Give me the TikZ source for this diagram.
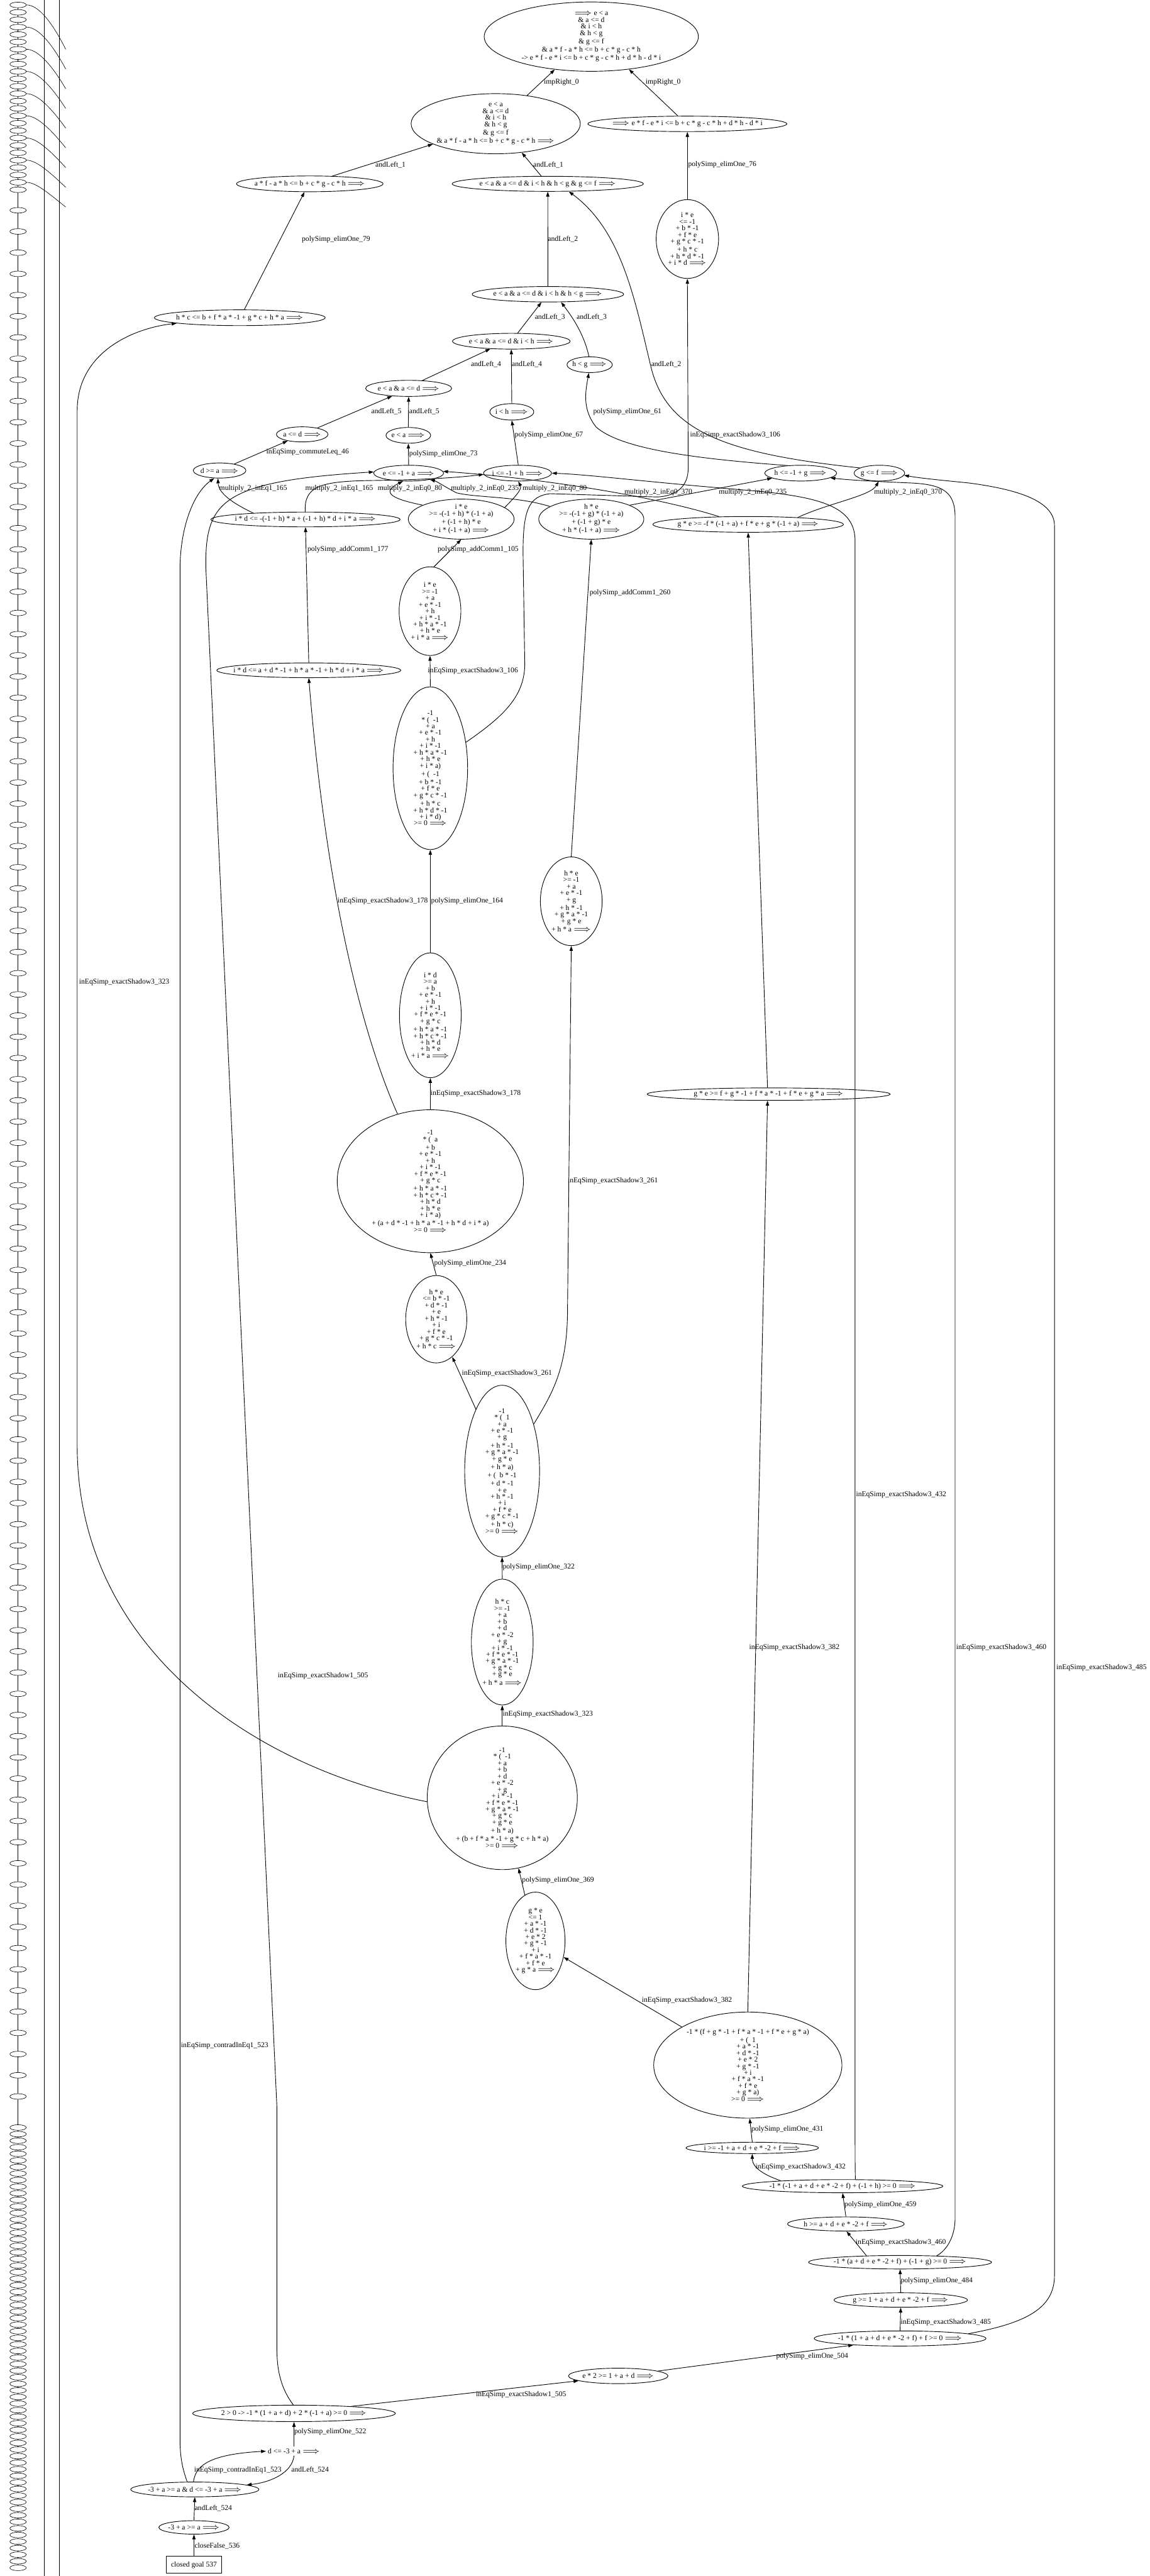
\documentclass[tikz,border=0pt]{standalone}
\usepackage{fontspec}
\setmainfont{Liberation Serif}
\usetikzlibrary{shapes.geometric,arrows.meta}
\newcommand\nf{\fontsize{4.45}{4}\selectfont}
\newcommand\IMP{$\Longrightarrow$}
\tikzset{
 ell/.style={ellipse, draw, line width=0.35pt, inner xsep=-40pt, inner ysep=-40pt, align=center, font=\nf},
 tinyell/.style={ellipse, draw, line width=0.25pt, inner sep=0pt, minimum width=10pt, minimum height=3.4pt},
 txt/.style={inner sep=1pt, align=center, font=\nf},
 lab/.style={anchor=west, inner sep=0pt, font=\nf},
 arr/.style={-{Triangle[length=3pt,width=2pt]}, line width=0.35pt},
 thin/.style={line width=0.25pt},
}
\begin{document}
\begin{tikzpicture}[x=1pt,y=-1pt]
\fill[white] (0,0) rectangle (700,1568);
\useasboundingbox (0,0) rectangle (700,1568);
% ---------------- left strip (small nodes) ----------------
\foreach \i in {0,...,25} { \node[tinyell] (lt\i) at (11,{3+4.5*\i}) {}; }
\foreach \i in {0,...,89} { \node[tinyell] (lm\i) at (11,{128+12.9*\i}) {}; }
\foreach \i in {0,...,67} { \node[tinyell] (lb\i) at (11,{1295+4*\i}) {}; }
\foreach \i [evaluate=\i as \j using int(\i+1)] in {0,...,24} { \draw[thin] (lt\j) -- (lt\i); }
\foreach \i [evaluate=\i as \j using int(\i+1)] in {0,...,88} { \draw[thin] (lm\j) -- (lm\i); }
\foreach \i [evaluate=\i as \j using int(\i+1)] in {0,...,66} { \draw[thin] (lb\j) -- (lb\i); }
\draw[thin] (lm0) -- (lt25);
\draw[thin] (lb0) -- (lm89);
\foreach \i in {0,3,...,24} { \draw[thin] (lt\i.east) .. controls (22,{3+4.5*\i}) and (30,{10+4.5*\i}) .. (40,{30+4*\i}); }
\coordinate (vA1) at (27,0); \coordinate (vA2) at (27,1568);
\coordinate (vB1) at (36,0); \coordinate (vB2) at (36,1568);
\draw[thin] (vA2) -- (vA1);
\draw[thin] (vB2) -- (vB1);
% ---------------- nodes ----------------
\node[ell, minimum width=130.4pt, minimum height=42.2pt] (top) at (360,22.3) {\IMP{} e < a\\ \& a <= d\\ \& i < h\\ \& h < g\\ \& g <= f\\ \& a * f - a * h <= b + c * g - c * h\\ -> e * f - e * i <= b + c * g - c * h + d * h - d * i};
\node[ell, minimum width=103pt, minimum height=36.6pt] (n2) at (301.8,75.3) {e < a\\ \& a <= d\\ \& i < h\\ \& h < g\\ \& g <= f\\ \& a * f - a * h <= b + c * g - c * h \IMP};
\node[ell, minimum width=121.2pt, minimum height=9.4pt] (n3) at (418.5,75.4) {\IMP{} e * f - e * i <= b + c * g - c * h + d * h - d * i};
\node[ell, minimum width=116.4pt, minimum height=9.2pt] (n4) at (333.5,111.9) {e < a \& a <= d \& i < h \& h < g \& g <= f \IMP};
\node[ell, minimum width=89.2pt, minimum height=9.6pt] (n5) at (188.6,111.9) {a * f - a * h <= b + c * g - c * h \IMP};
\node[ell, minimum width=38pt, minimum height=48pt] (n6) at (418.5,145.5) {i * e\\ <= -1\\ + b * -1\\ + f * e\\ + g * c * -1\\ + h * c\\ + h * d * -1\\ + i * d \IMP};
\node[ell, minimum width=104pt, minimum height=9.6pt] (n7) at (146,193.4) {h * c <= b + f * a * -1 + g * c + h * a \IMP};
\node[ell, minimum width=92.2pt, minimum height=9.4pt] (n8) at (333.6,179.1) {e < a \& a <= d \& i < h \& h < g \IMP};
\node[ell, minimum width=71.6pt, minimum height=9.6pt] (n9) at (311.3,207.7) {e < a \& a <= d \& i < h \IMP};
\node[ell, minimum width=27.6pt, minimum height=9.6pt] (hg) at (359,222) {h < g \IMP};
\node[ell, minimum width=52.4pt, minimum height=9.8pt] (n11) at (248.8,236.4) {e < a \& a <= d \IMP};
\node[ell, minimum width=26.8pt, minimum height=10pt] (ih) at (311.6,250.7) {i < h \IMP};
\node[ell, minimum width=31.4pt, minimum height=9.2pt] (ad) at (184,264.4) {a <= d \IMP};
\node[ell, minimum width=27.2pt, minimum height=9.6pt] (ea) at (248.6,265) {e < a \IMP};
\node[ell, minimum width=32pt, minimum height=9.2pt] (da) at (133.7,286.4) {d >= a \IMP};
\node[ell, minimum width=42.6pt, minimum height=9.6pt] (e1a) at (248.8,288) {e <= -1 + a \IMP};
\node[ell, minimum width=41.4pt, minimum height=9.6pt] (i1h) at (315.1,288) {i <= -1 + h \IMP};
\node[ell, minimum width=43.8pt, minimum height=9.6pt] (h1g) at (487.5,288) {h <= -1 + g \IMP};
\node[ell, minimum width=30.8pt, minimum height=9.6pt] (gf) at (535.4,288) {g <= f \IMP};
\node[ell, minimum width=115.2pt, minimum height=9pt] (n20) at (186,316.2) {i * d <= -(-1 + h) * a + (-1 + h) * d + i * a \IMP};
\node[ell, minimum width=64.4pt, minimum height=24.4pt] (m1) at (280.8,316) {i * e\\ >= -(-1 + h) * (-1 + a)\\ + (-1 + h) * e\\ + i * (-1 + a) \IMP};
\node[ell, minimum width=64pt, minimum height=24.4pt] (m2) at (360,316) {h * e\\ >= -(-1 + g) * (-1 + a)\\ + (-1 + g) * e\\ + h * (-1 + a) \IMP};
\node[ell, minimum width=116pt, minimum height=9.6pt] (m3) at (455.5,319.2) {g * e >= -f * (-1 + a) + f * e + g * (-1 + a) \IMP};
\node[ell, minimum width=112pt, minimum height=9pt] (X) at (188,408) {i * d <= a + d * -1 + h * a * -1 + h * d + i * a \IMP};
\node[ell, minimum width=37.6pt, minimum height=54pt] (ie2) at (261.8,372) {i * e\\ >= -1\\ + a\\ + e * -1\\ + h\\ + i * -1\\ + h * a * -1\\ + h * e\\ + i * a \IMP};
\node[ell, minimum width=45.4pt, minimum height=99pt] (b1) at (262,467.6) {-1\\ * (\ \ -1\\ + a\\ + e * -1\\ + h\\ + i * -1\\ + h * a * -1\\ + h * e\\ + i * a)\\ + (\ \ -1\\ + b * -1\\ + f * e\\ + g * c * -1\\ + h * c\\ + h * d * -1\\ + i * d)\\ >= 0 \IMP};
\node[ell, minimum width=37.6pt, minimum height=54pt] (he2) at (347.8,548.6) {h * e\\ >= -1\\ + a\\ + e * -1\\ + g\\ + h * -1\\ + g * a * -1\\ + g * e\\ + h * a \IMP};
\node[ell, minimum width=37.6pt, minimum height=76pt] (idg) at (262,618) {i * d\\ >= a\\ + b\\ + e * -1\\ + h\\ + i * -1\\ + f * e * -1\\ + g * c\\ + h * a * -1\\ + h * c * -1\\ + h * d\\ + h * e\\ + i * a \IMP};
\node[ell, minimum width=148pt, minimum height=7.6pt] (Y) at (468,666) {g * e >= f + g * -1 + f * a * -1 + f * e + g * a \IMP};
\node[ell, minimum width=113.4pt, minimum height=87pt] (b2) at (262,719) {-1\\ * (\ \ a\\ + b\\ + e * -1\\ + h\\ + i * -1\\ + f * e * -1\\ + g * c\\ + h * a * -1\\ + h * c * -1\\ + h * d\\ + h * e\\ + i * a)\\ + (a + d * -1 + h * a * -1 + h * d + i * a)\\ >= 0 \IMP};
\node[ell, minimum width=37.2pt, minimum height=53.2pt] (hel) at (265.6,803) {h * e\\ <= b * -1\\ + d * -1\\ + e\\ + h * -1\\ + i\\ + f * e\\ + g * c * -1\\ + h * c \IMP};
\node[ell, minimum width=45.6pt, minimum height=104.4pt] (b3) at (305.7,895.4) {-1\\ * (\ \ 1\\ + a\\ + e * -1\\ + g\\ + h * -1\\ + g * a * -1\\ + g * e\\ + h * a)\\ + (\ \ b * -1\\ + d * -1\\ + e\\ + h * -1\\ + i\\ + f * e\\ + g * c * -1\\ + h * c)\\ >= 0 \IMP};
\node[ell, minimum width=37.6pt, minimum height=76.6pt] (hcg) at (305.8,999.5) {h * c\\ >= -1\\ + a\\ + b\\ + d\\ + e * -2\\ + g\\ + i * -1\\ + f * e * -1\\ + g * a * -1\\ + g * c\\ + g * e\\ + h * a \IMP};
\node[ell, minimum width=91.4pt, minimum height=87.4pt] (b4) at (305.8,1094.3) {-1\\ * (\ \ -1\\ + a\\ + b\\ + d\\ + e * -2\\ + g\\ + i * -1\\ + f * e * -1\\ + g * a * -1\\ + g * c\\ + g * e\\ + h * a)\\ + (b + f * a * -1 + g * c + h * a)\\ >= 0 \IMP};
\node[ell, minimum width=36pt, minimum height=59.4pt] (gel) at (326,1181.4) {g * e\\ <= 1\\ + a * -1\\ + d * -1\\ + e * 2\\ + g * -1\\ + i\\ + f * a * -1\\ + f * e\\ + g * a \IMP};
\node[ell, minimum width=114.6pt, minimum height=64.6pt] (b5) at (455.3,1257) {-1 * (f + g * -1 + f * a * -1 + f * e + g * a)\\ + (\ \ 1\\ + a * -1\\ + d * -1\\ + e * 2\\ + g * -1\\ + i\\ + f * a * -1\\ + f * e\\ + g * a)\\ >= 0 \IMP};
\node[ell, minimum width=80.6pt, minimum height=6.9pt] (ig) at (458,1307.4) {i >= -1 + a + d + e * -2 + f \IMP};
\node[ell, minimum width=122pt, minimum height=8pt] (s432) at (513,1330.7) {-1 * (-1 + a + d + e * -2 + f) + (-1 + h) >= 0 \IMP};
\node[ell, minimum width=71pt, minimum height=8.6pt] (hg2) at (515,1353.7) {h >= a + d + e * -2 + f \IMP};
\node[ell, minimum width=111.4pt, minimum height=8.2pt] (s460) at (548,1377) {-1 * (a + d + e * -2 + f) + (-1 + g) >= 0 \IMP};
\node[ell, minimum width=81.2pt, minimum height=8.8pt] (gg2) at (548.4,1400) {g >= 1 + a + d + e * -2 + f \IMP};
\node[ell, minimum width=104.6pt, minimum height=9.2pt] (s485) at (548,1423.4) {-1 * (1 + a + d + e * -2 + f) + f >= 0 \IMP};
\node[ell, minimum width=60.6pt, minimum height=9.4pt] (e2) at (376.4,1446.2) {e * 2 >= 1 + a + d \IMP};
\node[ell, minimum width=123.4pt, minimum height=10pt] (two) at (179,1469) {2 > 0 -> -1 * (1 + a + d) + 2 * (-1 + a) >= 0 \IMP};
\node[txt] (d3) at (179,1492) {d <= -3 + a \IMP};
\node[ell, minimum width=78pt, minimum height=9pt] (m3a) at (118.6,1515.3) {-3 + a >= a \& d <= -3 + a \IMP};
\node[ell, minimum width=42.8pt, minimum height=8.2pt] (m3b) at (118.1,1538.4) {-3 + a >= a \IMP};
\node[draw, line width=0.35pt, minimum width=33.8pt, minimum height=10.4pt, inner sep=0pt, font=\nf] (closed) at (118.1,1561.2) {closed goal 537};
% ---------------- edges ----------------
\draw[arr] (n2.42) -- (top.222);
\draw[arr] (n3.140) -- (top.-41);
\draw[arr] (n4.130) -- (n2.-48);
\draw[arr] (n5.19) -- (n2.198);
\draw[arr] (n6.north) -- (n3.south);
\draw[arr] (n7.61) -- (n5.237);
\draw[arr] (n8.north) -- (n4.south);
\draw[arr] (gf.165) .. controls (440,276) and (405,262) .. (396,222) .. controls (386,180) and (378,140) .. (n4.-20);
\draw[arr] (n9.52) -- (n8.231);
\draw[arr] (hg.95) .. controls (356,205) and (350,195) .. (n8.-31);
\draw[arr] (n11.30) -- (n9.200);
\draw[arr] (ih.north) -- (n9.south);
\draw[arr] (ad.23) -- (n11.205);
\draw[arr] (ea.north) -- (n11.south);
\draw[arr] (h1g.150) .. controls (420,279) and (378,273) .. (363,260) .. controls (355,250) and (356,240) .. (hg.265);
\draw[arr] (da.24) -- (ad.204);
\draw[arr] (e1a.north) -- (ea.south);
\draw[arr] (i1h.85) -- (ih.south);
\draw[arr] (n20.173) .. controls (141,306) and (133,300) .. (da.258);
\draw[arr] (n20.92) .. controls (185,296) and (195,293) .. (225,292.5) .. controls (265,292) and (285,290) .. (i1h.182);
\draw[arr] (m1.160) .. controls (240,304) and (231,300) .. (e1a.235);
\draw[arr] (m1.15) .. controls (313,303) and (318,298) .. (i1h.-85);
\draw[arr] (m2.163) .. controls (315,302) and (290,303) .. (278,300) .. controls (272,297) and (266,293) .. (e1a.-17);
\draw[arr] (m2.20) -- (h1g.190);
\draw[arr] (m3.165) .. controls (405,304) and (340,292) .. (e1a.3);
\draw[arr] (m3.8) .. controls (505,306) and (530,302) .. (gf.265);
\draw[arr] (X.north) -- (n20.south);
\draw[arr] (ie2.85) -- (m1.south);
\draw[arr] (he2.north) -- (m2.south);
\draw[arr] (b1.north) -- (ie2.south);
\draw[arr] (b1.36) .. controls (305,437) and (319,425) .. (319.5,405) -- (318.5,340) .. controls (318,310) and (322,302) .. (335,300.5) -- (400,302.5) .. controls (412,302) and (419,296) .. (419,285) -- (n6.south);
\draw[arr] (idg.north) -- (b1.south);
\draw[arr] (b2.north) -- (idg.south);
\draw[arr] (b2.116) .. controls (225,640) and (200,560) .. (X.south);
\draw[arr] (Y.100) -- (m3.south);
\draw[arr] (hel.north) -- (b2.south);
\draw[arr] (b3.113) -- (hel.-67);
\draw[arr] (b3.56) .. controls (335,850) and (345,835) .. (345.5,800) -- (he2.south);
\draw[arr] (hcg.north) -- (b3.south);
\draw[arr] (b4.north) -- (hcg.south);
\draw[arr] (b4.183) .. controls (150,1075) and (47,1000) .. (47,880) -- (47,250) .. controls (47,215) and (80,200) .. (n7.185);
\draw[arr] (gel.103) -- (b4.-77);
\draw[arr] (b5.150) -- (gel.-30);
\draw[arr] (b5.north) -- (Y.-100);
\draw[arr] (ig.north) -- (b5.-88);
\draw[arr] (s432.175) .. controls (460,1322) and (458,1317) .. (ig.south);
\draw[arr] (s432.28) .. controls (520.6,1320) and (520.6,1310) .. (520.6,1300) -- (520.6,330) .. controls (521,308) and (500,302) .. (450,298) .. controls (390,293) and (360,289) .. (i1h.0);
\draw[arr] (hg2.north) -- (s432.south);
\draw[arr] (s460.169) -- (hg2.-85);
\draw[arr] (s460.10) .. controls (576,1370) and (581.5,1362) .. (581.5,1350) -- (581.5,315) .. controls (581.5,300) and (575,295) .. (555,294) .. controls (530,293) and (515,292) .. (h1g.-9);
\draw[arr] (gg2.north) -- (s460.south);
\draw[arr] (s485.north) -- (gg2.south);
\draw[arr] (s485.4) .. controls (625,1414) and (642,1405) .. (642,1385) -- (642,320) .. controls (642,305) and (620,298) .. (590,294) .. controls (570,292) and (560,291) .. (gf.-5);
\draw[arr] (e2.7) -- (s485.188);
\draw[arr] (two.7) -- (e2.187);
\draw[arr] (two.95) .. controls (172,1455) and (168.6,1445) .. (168.6,1430) -- (168.6,1283) -- (125.3,345) .. controls (125,305) and (135,293) .. (e1a.178);
\draw[arr] (d3.north) -- (two.south);
\draw[arr] (m3a.100) .. controls (119,1502) and (125,1494) .. (d3.west);
\draw[arr] (d3.south) .. controls (178,1505) and (165,1511) .. (m3a.5);
\draw[arr] (m3a.135) .. controls (112,1505) and (109.6,1498) .. (109.6,1485) -- (109.6,345) .. controls (110,320) and (118,300) .. (da.235);
\draw[arr] (m3b.north) -- (m3a.south);
\draw[arr] (closed.north) -- (m3b.south);
% ---------------- labels ----------------
\node[lab] (l1) at (331,49.9) {impRight\_0};
\node[lab] (l2) at (392.9,49.9) {impRight\_0};
\node[lab] (l3) at (228.4,100.2) {andLeft\_1};
\node[lab] (l4) at (324.5,100.3) {andLeft\_1};
\node[lab] (l5) at (418.8,100.3) {polySimp\_elimOne\_76};
\node[lab] (l6) at (183.6,145.6) {polySimp\_elimOne\_79};
\node[lab] (l7) at (333.4,145.6) {andLeft\_2};
\node[lab] (l8) at (325.5,193.1) {andLeft\_3};
\node[lab] (l9) at (350.9,193.1) {andLeft\_3};
\node[lab] (l10) at (286.6,221.8) {andLeft\_4};
\node[lab] (l11) at (311.5,221.8) {andLeft\_4};
\node[lab] (l12) at (396.3,221.8) {andLeft\_2};
\node[lab] (l13) at (225.9,250.5) {andLeft\_5};
\node[lab] (l14) at (249,250.5) {andLeft\_5};
\node[lab] (l15) at (361,250.5) {polySimp\_elimOne\_61};
\node[lab] (l16) at (313.2,264.7) {polySimp\_elimOne\_67};
\node[lab] (l17) at (420,264.7) {inEqSimp\_exactShadow3\_106};
\node[lab] (l18) at (162,275.2) {inEqSimp\_commuteLeq\_46};
\node[lab] (l19) at (249,276.3) {polySimp\_elimOne\_73};
\node[lab] (l20) at (133.3,297.2) {multiply\_2\_inEq1\_165};
\node[lab] (l21) at (185.7,297.2) {multiply\_2\_inEq1\_165};
\node[lab] (l22) at (229.8,297.2) {multiply\_2\_inEq0\_80};
\node[lab] (l23) at (274.4,297.2) {multiply\_2\_inEq0\_235};
\node[lab] (l24) at (318,297.2) {multiply\_2\_inEq0\_80};
\node[lab] (l25) at (380,299.6) {multiply\_2\_inEq0\_370};
\node[lab] (l26) at (437.5,299.6) {multiply\_2\_inEq0\_235};
\node[lab] (l27) at (532,299.6) {multiply\_2\_inEq0\_370};
\node[lab] (l28) at (187,334.6) {polySimp\_addComm1\_177};
\node[lab] (l29) at (266.3,334.6) {polySimp\_addComm1\_105};
\node[lab] (l30) at (358.8,360.7) {polySimp\_addComm1\_260};
\node[lab] (l31) at (260.3,408.2) {inEqSimp\_exactShadow3\_106};
\node[lab] (l32) at (262.3,548.3) {polySimp\_elimOne\_164};
\node[lab, anchor=east] (l33) at (260.7,548.3) {inEqSimp\_exactShadow3\_178};
\node[lab] (l34) at (262,665.4) {inEqSimp\_exactShadow3\_178};
\node[lab] (l35) at (264.2,769) {polySimp\_elimOne\_234};
\node[lab] (l36) at (345.5,718.7) {inEqSimp\_exactShadow3\_261};
\node[lab] (l37) at (281,836) {inEqSimp\_exactShadow3\_261};
\node[lab] (l38) at (305.9,954) {polySimp\_elimOne\_322};
\node[lab] (l39) at (305.9,1043.5) {inEqSimp\_exactShadow3\_323};
\node[lab] (l40) at (317.7,1144.4) {polySimp\_elimOne\_369};
\node[lab] (l41) at (390.6,1217.5) {inEqSimp\_exactShadow3\_382};
\node[lab] (l42) at (457.3,1296) {polySimp\_elimOne\_431};
\node[lab] (l43) at (459.8,1319) {inEqSimp\_exactShadow3\_432};
\node[lab] (l44) at (514,1342) {polySimp\_elimOne\_459};
\node[lab] (l45) at (520.8,1365) {inEqSimp\_exactShadow3\_460};
\node[lab] (l46) at (548.2,1388.3) {polySimp\_elimOne\_484};
\node[lab] (l47) at (548.2,1413.5) {inEqSimp\_exactShadow3\_485};
\node[lab] (l48) at (472.4,1434.2) {polySimp\_elimOne\_504};
\node[lab] (l49) at (289.6,1457.5) {inEqSimp\_exactShadow1\_505};
\node[lab] (l50) at (179,1480.4) {polySimp\_elimOne\_522};
\node[lab] (l51) at (118,1503.5) {inEqSimp\_contradInEq1\_523};
\node[lab] (l52) at (177.2,1503.5) {andLeft\_524};
\node[lab] (l53) at (118.3,1526.8) {andLeft\_524};
\node[lab] (l54) at (118.3,1549.8) {closeFalse\_536};
\node[lab] (l55) at (48,598) {inEqSimp\_exactShadow3\_323};
\node[lab] (l56) at (521,910) {inEqSimp\_exactShadow3\_432};
\node[lab] (l57) at (582,1003) {inEqSimp\_exactShadow3\_460};
\node[lab] (l58) at (643,1015) {inEqSimp\_exactShadow3\_485};
\node[lab] (l59) at (456,1003) {inEqSimp\_exactShadow3\_382};
\node[lab] (l60) at (169,1020) {inEqSimp\_exactShadow1\_505};
\node[lab] (l61) at (110,1245) {inEqSimp\_contradInEq1\_523};
\end{tikzpicture}
\end{document}
